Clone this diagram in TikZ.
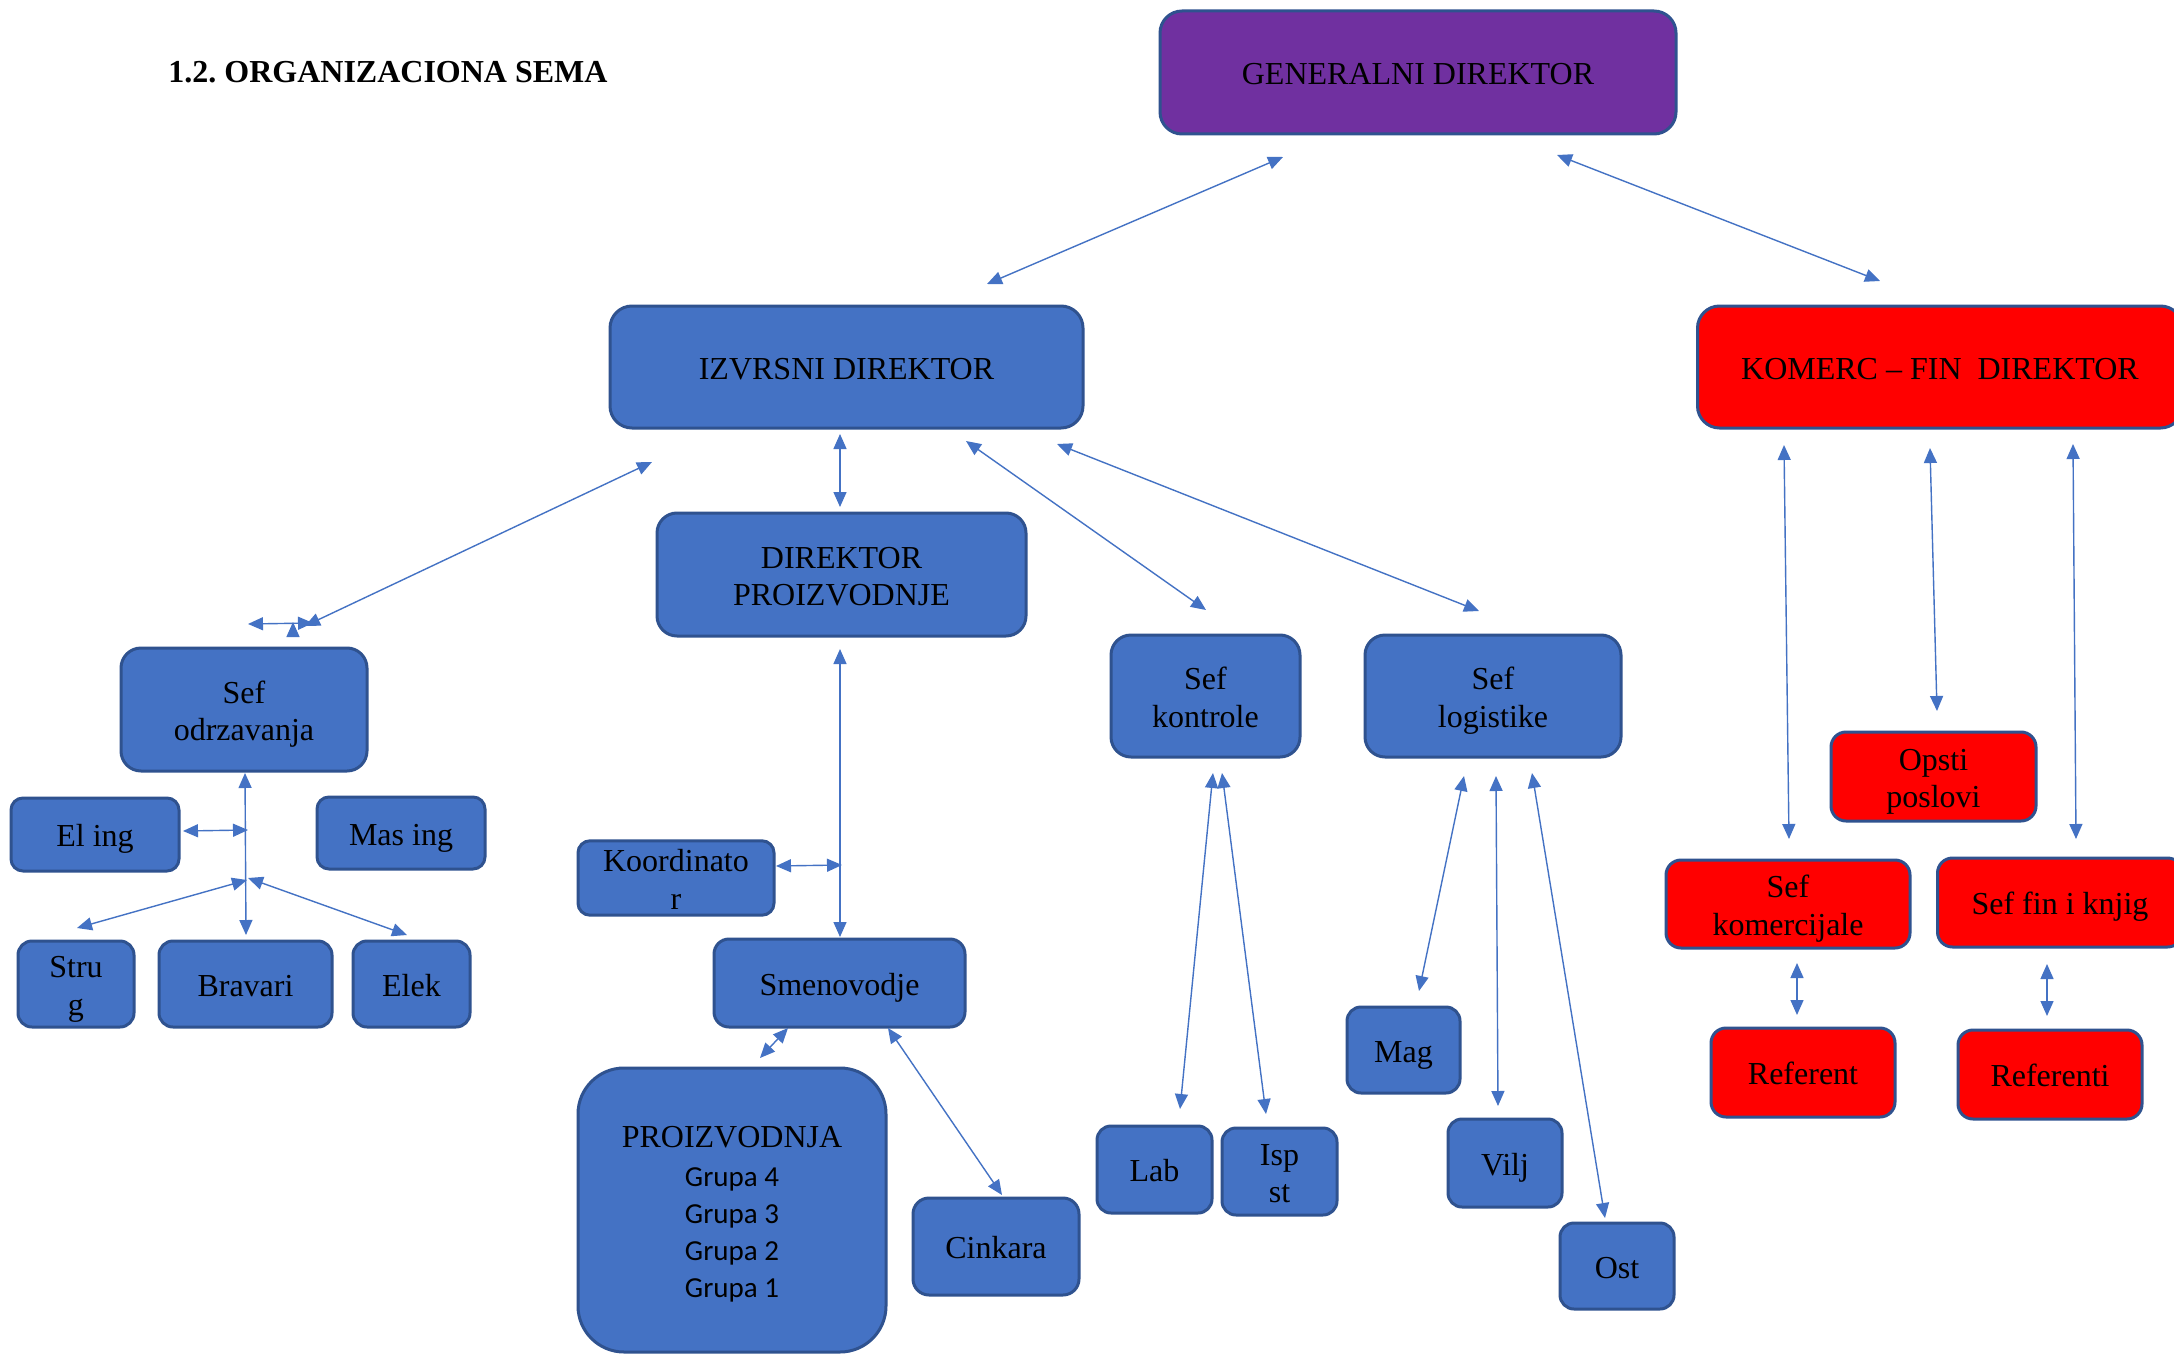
\documentclass[tikz,border=0pt]{standalone}
\usepackage{fontspec}
\setmainfont{Liberation Serif}
\newfontfamily\grpfont{Carlito}
\usetikzlibrary{arrows.meta}
\definecolor{blu}{HTML}{4472C4}
\definecolor{bordc}{HTML}{2F528F}
\definecolor{purp}{HTML}{7030A0}
\definecolor{redd}{HTML}{FF0000}
\newcommand\conn[3]{\coordinate (#1a) at #2; \coordinate (#1b) at #3; \draw[conn] (#1a) -- (#1b);}
\newcommand\bxt[1]{\raisebox{-2.5pt}[\height][\depth]{\begin{tabular}{@{}c@{}}#1\end{tabular}}}
\newcommand\grp[1]{{\grpfont\fontsize{14.5}{18.75}\selectfont #1}}
\begin{document}
\begin{tikzpicture}[x=0.5pt,y=-0.5pt,
  box/.style={draw=bordc, line width=1.5pt, fill=blu, inner sep=0pt,
    font=\fontsize{16}{18.6}\selectfont, text=black},
  redbox/.style={box, fill=redd},
  conn/.style={draw=blu, line width=0.7pt,
    {Triangle[length=7.5pt,width=6.5pt]}-{Triangle[length=7.5pt,width=6.5pt]}},
  onehead/.style={draw=blu, line width=0.7pt, -{Triangle[length=7.5pt,width=6.5pt]}}]
\useasboundingbox (0,0) rectangle (2174,1354);
\fill[white] (0,0) rectangle (2174,1354);

\node[anchor=west, inner sep=0pt, font=\fontsize{16}{19}\selectfont\bfseries] (title) at (168,72) {1.2.\ ORGANIZACIONA SEMA};

% top level
\node[box, fill=purp, minimum width=258pt, minimum height=61.5pt, rounded corners=11pt] (gen) at (1418,72.5) {\bxt{GENERALNI DIREKTOR}};
\node[box, minimum width=236.5pt, minimum height=61pt, rounded corners=11pt] (izv) at (846.5,367) {\bxt{IZVRSNI DIREKTOR}};
\node[redbox, minimum width=242.5pt, minimum height=61pt, rounded corners=11pt] (kom) at (1940,367) {\bxt{KOMERC -- FIN\ \ DIREKTOR}};

% second level
\node[box, minimum width=184.5pt, minimum height=61.5pt, rounded corners=10pt] (dp) at (841.5,574.5) {\bxt{DIREKTOR\\PROIZVODNJE}};
\node[box, minimum width=123pt, minimum height=61.5pt, rounded corners=10pt] (odr) at (244,709.5) {\bxt{Sef\\odrzavanja}};
\node[box, minimum width=94.5pt, minimum height=61pt, rounded corners=10pt] (kon) at (1205.5,696) {\bxt{Sef\\kontrole}};
\node[box, minimum width=128pt, minimum height=61pt, rounded corners=10pt] (log) at (1493,696) {\bxt{Sef\\logistike}};

% red column
\node[redbox, minimum width=102.5pt, minimum height=44.5pt, rounded corners=7.5pt] (ops) at (1933.5,776.5) {\bxt{Opsti\\poslovi}};
\node[redbox, minimum width=122pt, minimum height=44pt, rounded corners=7.5pt] (skom) at (1788,904) {\bxt{Sef\\komercijale}};
\node[redbox, minimum width=122.5pt, minimum height=44.5pt, rounded corners=7.5pt] (sfin) at (2060,902.5) {\bxt{Sef fin i knjig}};
\node[redbox, minimum width=92pt, minimum height=44.5pt, rounded corners=7.5pt] (ref) at (1803,1072.5) {\bxt{Referent}};
\node[redbox, minimum width=92pt, minimum height=44.5pt, rounded corners=7.5pt] (refi) at (2050,1074.5) {\bxt{Referenti}};

% maintenance
\node[box, minimum width=84pt, minimum height=36.5pt, rounded corners=6pt] (elg) at (95,834.5) {\bxt{El ing}};
\node[box, minimum width=84pt, minimum height=36pt, rounded corners=6pt] (mas) at (401,833) {\bxt{Mas ing}};
\node[box, minimum width=58pt, minimum height=43pt, rounded corners=7pt] (str) at (76,984) {\bxt{Stru\\g}};
\node[box, minimum width=86.5pt, minimum height=43pt, rounded corners=7pt] (brv) at (245.5,984) {\bxt{Bravari}};
\node[box, minimum width=58.5pt, minimum height=43pt, rounded corners=7pt] (elk) at (411.5,984) {\bxt{Elek}};

% production
\node[box, minimum width=98pt, minimum height=37pt, rounded corners=6pt] (koo) at (676,878) {\bxt{Koordinato\\r}};
\node[box, minimum width=125.5pt, minimum height=44pt, rounded corners=7.5pt] (sme) at (839.5,983) {\bxt{Smenovodje}};
\node[box, minimum width=154pt, minimum height=142pt, rounded corners=23pt] (pro) at (732,1210)
  {\bxt{PROIZVODNJA\\[0.8pt]\grp{Grupa 4}\\\grp{Grupa 3}\\\grp{Grupa 2}\\\grp{Grupa 1}}};
\node[box, minimum width=83pt, minimum height=48.5pt, rounded corners=8pt] (cin) at (996,1246.5) {\bxt{Cinkara}};

% control / logistics
\node[box, minimum width=57.5pt, minimum height=43.5pt, rounded corners=7pt] (lab) at (1154.5,1169.5) {\bxt{Lab}};
\node[box, minimum width=57.5pt, minimum height=43.5pt, rounded corners=7pt] (isp) at (1279.5,1171.5) {\bxt{Isp\\st}};
\node[box, minimum width=56.5pt, minimum height=43pt, rounded corners=7pt] (mag) at (1403.5,1050) {\bxt{Mag}};
\node[box, minimum width=57pt, minimum height=44pt, rounded corners=7pt] (vil) at (1505,1163) {\bxt{Vilj}};
\node[box, minimum width=57pt, minimum height=43pt, rounded corners=7pt] (ost) at (1617,1266) {\bxt{Ost}};

% connectors
\conn{c1}{(1283,157)}{(987,284)}
\conn{c2}{(1557,155)}{(1880,281)}
\conn{c3}{(840,434)}{(840,507)}
\conn{c4}{(652,462)}{(305,626)}
\conn{c5}{(248,624)}{(313,623)}
\coordinate (c6a) at (293,634); \coordinate (c6b) at (293,622);
\draw[onehead] (c6a) -- (c6b);
\conn{c7}{(245,773)}{(246,935)}
\conn{c8}{(183,831)}{(248,830)}
\conn{c9}{(247,880)}{(77,928)}
\conn{c10}{(248,878)}{(407,935)}
\conn{c11}{(840,649)}{(840,937)}
\conn{c12}{(776,866)}{(842,865)}
\conn{c13}{(788,1028)}{(760,1058)}
\conn{c14}{(888,1028)}{(1002,1195)}
\conn{c15}{(966,441)}{(1206,610)}
\conn{c16}{(1057,444)}{(1479,611)}
\conn{c17}{(1213,773)}{(1180,1109)}
\conn{c18}{(1222,773)}{(1266,1114)}
\conn{c19}{(1464,776)}{(1419,991)}
\conn{c20}{(1496,776)}{(1498,1106)}
\conn{c21}{(1532,773)}{(1605,1218)}
\conn{c22}{(1784,445)}{(1789,839)}
\conn{c23}{(1930,448)}{(1937,711)}
\conn{c24}{(2073,444)}{(2076,839)}
\conn{c25}{(1797,963)}{(1797,1015)}
\conn{c26}{(2047,964)}{(2047,1016)}
\end{tikzpicture}
\end{document}
